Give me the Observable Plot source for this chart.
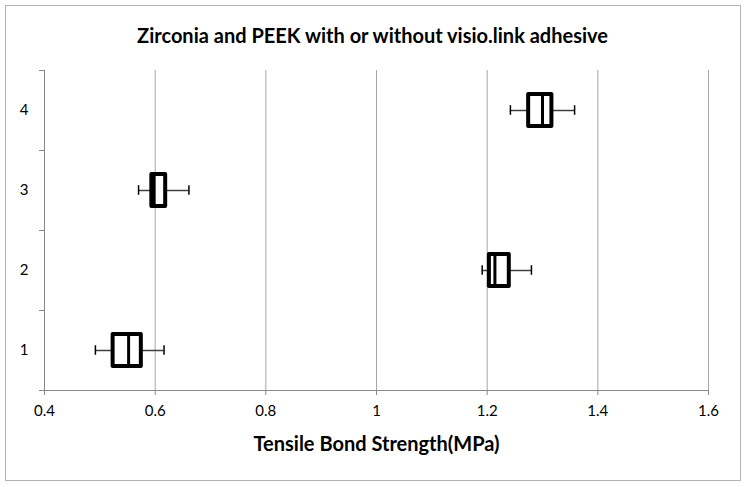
<!DOCTYPE html>
<html>
<head>
<meta charset="utf-8">
<script src="https://cdn.jsdelivr.net/npm/d3@7"></script>
<script src="https://cdn.jsdelivr.net/npm/@observablehq/plot@0.6"></script>
<style>
  html, body { margin: 0; padding: 0; background: #fff; }
  #wrap { position: relative; width: 748px; height: 487px; }
  #frame { position: absolute; left: 5px; top: 5px; width: 734px; height: 474px; border: 1.5px solid #b4b4b4; pointer-events: none; }
  svg { display: block; }
</style>
</head>
<body>
<div id="wrap"><div id="frame"></div></div>
<script>
const title = "Zirconia and PEEK with or without visio.link adhesive";
const xLabel = "Tensile Bond Strength(MPa)";
const categories = [1, 2, 3, 4];
const whiskerLow  = [0.492, 1.191, 0.570, 1.242];
const q1          = [0.524, 1.204, 0.594, 1.275];
const median      = [0.552, 1.214, 0.598, 1.300];
const q3          = [0.575, 1.240, 0.619, 1.317];
const whiskerHigh = [0.616, 1.280, 0.661, 1.358];
const xTicks = [0.4, 0.6, 0.8, 1.0, 1.2, 1.4, 1.6];
const yBoundaries = [0.5, 1.5, 2.5, 3.5, 4.5];

const rows = categories.map((c, i) => ({
  cat: c, lo: whiskerLow[i], q1: q1[i], med: median[i], q3: q3[i], hi: whiskerHigh[i]
}));
const half = 0.2;   // half box height in category units
const cap = 0.06;   // half whisker cap height

const font = "Lato, 'Liberation Sans', sans-serif";

const chart = Plot.plot({
  width: 748,
  height: 487,
  marginLeft: 44,
  marginRight: 40,
  marginTop: 70,
  marginBottom: 97,
  style: { fontFamily: font, fontSize: "15px", color: "#000", background: "transparent" },
  x: { domain: [0.4, 1.6], ticks: xTicks, label: null },
  y: { domain: [0.5, 4.5], label: null },
  marks: [
    Plot.ruleX(xTicks.slice(1), { stroke: "#a6a6a6", strokeWidth: 1 }),
    Plot.axisX({ ticks: xTicks, tickFormat: d => String(+d.toFixed(1)), tickSize: 5, tickPadding: 10, stroke: "#888", fill: "#000", fontSize: 15 }),
    Plot.axisY({ ticks: yBoundaries, tickFormat: () => "", tickSize: 5, stroke: "#888" }),
    Plot.axisY({ ticks: categories, tickFormat: d => String(d), tickSize: 0, tickPadding: 16, fontSize: 15 }),
    Plot.ruleY([0.5], { stroke: "#888", strokeWidth: 1 }),
    Plot.ruleX([0.4], { stroke: "#888", strokeWidth: 1 }),
    // whiskers
    Plot.ruleY(rows, { y: "cat", x1: "lo", x2: "q1", stroke: "#404040", strokeWidth: 1.5 }),
    Plot.ruleY(rows, { y: "cat", x1: "q3", x2: "hi", stroke: "#404040", strokeWidth: 1.5 }),
    Plot.ruleX(rows, { x: "lo", y1: d => d.cat - cap, y2: d => d.cat + cap, stroke: "#000", strokeWidth: 1.5 }),
    Plot.ruleX(rows, { x: "hi", y1: d => d.cat - cap, y2: d => d.cat + cap, stroke: "#000", strokeWidth: 1.5 }),
    // boxes
    Plot.rect(rows, { x1: "q1", x2: "q3", y1: d => d.cat - half, y2: d => d.cat + half, fill: "none", stroke: "#000", strokeWidth: 4, strokeLinejoin: "round" }),
    Plot.ruleX(rows, { x: "med", y1: d => d.cat - half, y2: d => d.cat + half, stroke: "#000", strokeWidth: 3 }),
    // title and axis label
    Plot.text([title], { frameAnchor: "top", lineAnchor: "middle", dy: -34, dx: -4, fontSize: 20, fontWeight: "bold", fill: "#000" }),
    Plot.text([xLabel], { frameAnchor: "bottom", lineAnchor: "middle", dy: 54, fontSize: 20, fontWeight: "bold", fill: "#000" })
  ]
});
document.getElementById("wrap").prepend(chart);
</script>
</body>
</html>
